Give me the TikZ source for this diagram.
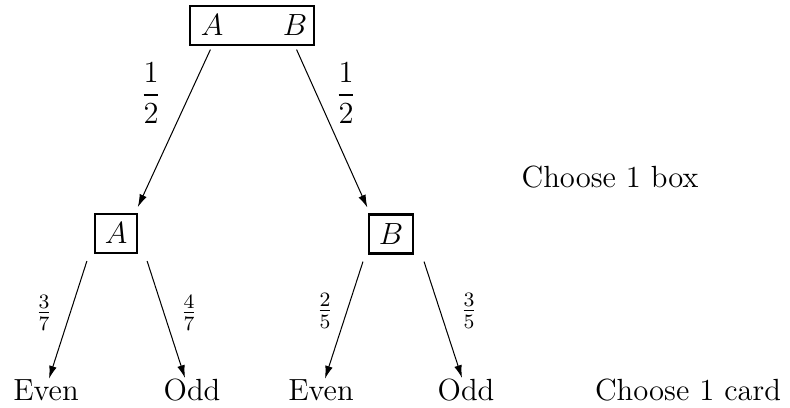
\documentclass[12pt,tikz,border=0pt]{standalone}
\usepackage{amsmath}
\usetikzlibrary{arrows.meta}

\begin{document}
\begin{tikzpicture}[
    x=0.392pt, y=-0.392pt,
    box/.style={draw, line width=0.85pt, minimum height=15.3pt, inner sep=0pt},
    word/.style={inner sep=0pt, anchor=base},
    arr/.style={-{Latex[length=5pt,width=3pt]}}
  ]
  \useasboundingbox (0,0) rectangle (790,407);

  % first draw: one box
  \node[box, minimum width=48.6pt] (top) at (252,25.5) {};
  \node (tA) at (212,25.5) {$A$};
  \node (tB) at (295,25.5) {$B$};
  \node[box, minimum width=16.5pt] (A) at (116,233.5) {$A$};
  \node[box, minimum width=17.2pt] (B) at (391,234) {$B$};
  \node[word] (box) at (610,187) {Choose 1 box};

  % second draw: one card
  \node[word] (even1) at (46,400)  {Even};
  \node[word] (odd1)  at (192,400) {Odd};
  \node[word] (even2) at (321,400) {Even};
  \node[word] (odd2)  at (466,400) {Odd};
  \node[word] (card)  at (688,400) {Choose 1 card};

  \draw[arr, shorten <=1.5pt, shorten >=2.5pt] (tA.south |- top.south) -- ([shift={(-3,0)}]A.north east);
  \draw[arr, shorten <=1.5pt, shorten >=2.5pt] (tB.south |- top.south) -- ([shift={(2,0)}]B.north west);
  \node (pA) at (151,93)  {$\dfrac{1}{2}$};
  \node (pB) at (346,93)  {$\dfrac{1}{2}$};

  \draw[arr] ([shift={(-7,7)}]A.south west) -- ([shift={(3,0)}]even1.north);
  \draw[arr] ([shift={(9,7)}]A.south east)  -- ([shift={(-7,0)}]odd1.north);
  \draw[arr] ([shift={(-5,7)}]B.south west) -- ([shift={(4,0)}]even2.north);
  \draw[arr] ([shift={(10,7)}]B.south east) -- ([shift={(-4,0)}]odd2.north);
  \node (pAe) at (44,313)  {$\frac{3}{7}$};
  \node (pAo) at (189,313) {$\frac{4}{7}$};
  \node (pBe) at (325,311) {$\frac{2}{5}$};
  \node (pBo) at (469,311) {$\frac{3}{5}$};
\end{tikzpicture}
\end{document}
